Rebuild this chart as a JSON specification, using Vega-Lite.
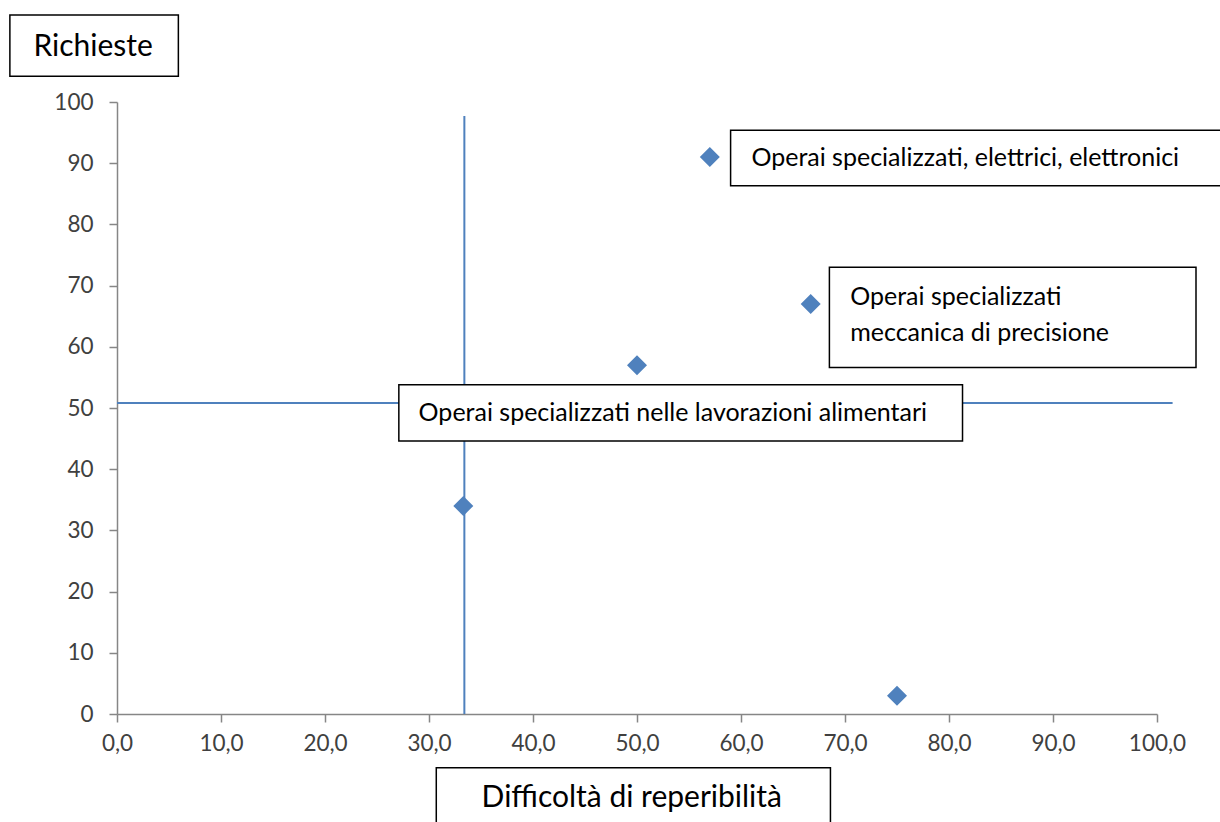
{
  "$schema": "https://vega.github.io/schema/vega-lite/v6.json",
  "width": 1040,
  "height": 612,
  "autosize": "none",
  "padding": {"left": 117, "top": 102, "right": 63, "bottom": 108},
  "background": "white",
  "config": {
    "view": {"stroke": null},
    "font": "Lato"
  },
  "datasets": {
    "points": [
      {"difficolta": 57.0, "richieste": 91},
      {"difficolta": 66.7, "richieste": 67},
      {"difficolta": 50.0, "richieste": 57},
      {"difficolta": 33.3, "richieste": 34},
      {"difficolta": 75.0, "richieste": 3}
    ],
    "vline": [{"x": 33.4, "y": 0, "y2": 97.7}],
    "hline": [{"y": 50.8, "x": 0, "x2": 101.5}],
    "boxes": [
      {"x": 59.0, "x2": 107, "y": 95.4, "y2": 86.3},
      {"x": 68.5, "x2": 103.75, "y": 73.0, "y2": 56.6},
      {"x": 27.1, "x2": 81.3, "y": 53.8, "y2": 44.6},
      {"x": -10.3, "x2": 5.9, "y": 114.2, "y2": 104.2},
      {"x": 30.7, "x2": 68.6, "y": -8.8, "y2": -19.5}
    ],
    "notes": [
      {"x": 61.0, "y": 90.8, "label": "Operai specializzati, elettrici, elettronici"},
      {"x": 70.5, "y": 68.1, "label": "Operai specializzati\nmeccanica di precisione"},
      {"x": 29.0, "y": 49.2, "label": "Operai specializzati nelle lavorazioni alimentari"}
    ],
    "titles": [
      {"x": -2.3, "y": 109.0, "label": "Richieste"},
      {"x": 49.5, "y": -13.7, "label": "Difficoltà di reperibilità"}
    ]
  },
  "layer": [
    {
      "data": {"name": "vline"},
      "mark": {"type": "rule", "color": "#4F81BD", "strokeWidth": 2},
      "encoding": {
        "x": {"field": "x", "type": "quantitative", "scale": {"domain": [0, 100], "nice": false, "zero": false},
          "axis": {"values": [0,10,20,30,40,50,60,70,80,90,100], "title": null, "grid": false,
            "domainColor": "#868686", "domainWidth": 1.5, "tickColor": "#868686", "tickWidth": 1.5, "tickSize": 8,
            "labelFontSize": 22.5, "labelColor": "#404040", "labelPadding": 10, "labelFont": "Lato",
            "labelExpr": "replace(format(datum.value, '.1f'), '.', ',')", "labelFlush": false, "labelOverlap": false}},
        "y": {"field": "y", "type": "quantitative", "scale": {"domain": [0, 100], "nice": false, "zero": false},
          "axis": {"values": [0,10,20,30,40,50,60,70,80,90,100], "title": null, "grid": false,
            "domainColor": "#868686", "domainWidth": 1.5, "tickColor": "#868686", "tickWidth": 1.5, "tickSize": 8,
            "labelFontSize": 22.5, "labelColor": "#404040", "labelPadding": 16, "labelFont": "Lato", "labelFlush": false, "labelOverlap": false}},
        "y2": {"field": "y2"}
      }
    },
    {
      "data": {"name": "hline"},
      "mark": {"type": "rule", "color": "#4F81BD", "strokeWidth": 2},
      "encoding": {
        "x": {"field": "x", "type": "quantitative"},
        "x2": {"field": "x2"},
        "y": {"field": "y", "type": "quantitative"}
      }
    },
    {
      "data": {"name": "points"},
      "mark": {"type": "point", "shape": "diamond", "filled": true, "color": "#4F81BD", "opacity": 1, "size": 400},
      "encoding": {
        "x": {"field": "difficolta", "type": "quantitative"},
        "y": {"field": "richieste", "type": "quantitative"}
      }
    },
    {
      "data": {"name": "boxes"},
      "mark": {"type": "rect", "fill": "white", "stroke": "black", "strokeWidth": 1.5},
      "encoding": {
        "x": {"field": "x", "type": "quantitative"},
        "x2": {"field": "x2"},
        "y": {"field": "y", "type": "quantitative"},
        "y2": {"field": "y2"}
      }
    },
    {
      "data": {"name": "notes"},
      "mark": {"type": "text", "align": "left", "baseline": "middle", "fontSize": 25, "font": "Lato", "color": "black", "lineBreak": "\n", "lineHeight": 36},
      "encoding": {
        "x": {"field": "x", "type": "quantitative"},
        "y": {"field": "y", "type": "quantitative"},
        "text": {"field": "label"}
      }
    },
    {
      "data": {"name": "titles"},
      "mark": {"type": "text", "align": "center", "baseline": "middle", "fontSize": 30, "font": "Lato", "color": "black"},
      "encoding": {
        "x": {"field": "x", "type": "quantitative"},
        "y": {"field": "y", "type": "quantitative"},
        "text": {"field": "label"}
      }
    }
  ]
}
